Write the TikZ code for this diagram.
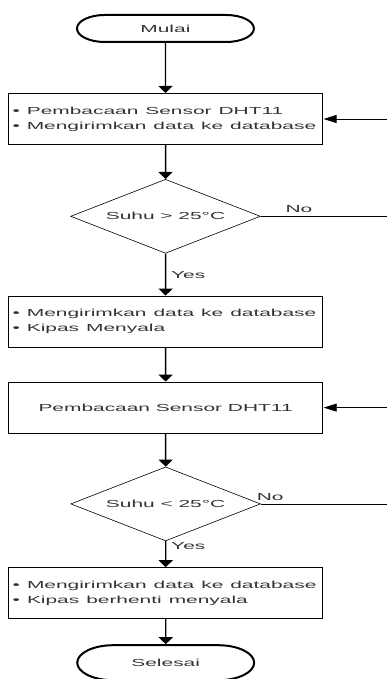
\documentclass[tikz,border=0pt]{standalone}
\usepackage{fontspec}
\setmainfont{Liberation Sans}
\usetikzlibrary{arrows.meta, positioning, shapes.geometric, shapes.misc}
\newcommand{\Item}[1]{\textbullet\ #1}
\tikzset{
    terminal/.style={rounded rectangle, draw, line width=2pt, minimum width=86.3pt, minimum height=27pt, inner sep=0pt},
    process/.style={rectangle, draw, line width=1pt, minimum width=153.2pt, minimum height=51pt, inner sep=2pt},
    listing/.style={process, align=left, text width=149.2pt},
    decision/.style={diamond, draw, line width=0.6pt, minimum width=92.7pt, minimum height=74pt, inner sep=0pt},
    flow/.style={-{Triangle[width=14pt,length=7pt]}, line width=1.4pt},
    back/.style={-{Triangle[width=8pt,length=13pt]}, line width=0.8pt},
    branch/.style={line width=0.8pt},
}

\begin{document}
\begin{tikzpicture}[x=1pt, y=1pt, xscale=2.05, transform shape,
    every node/.append style={font=\fontsize{10.2}{15}\selectfont, text=black!80}]
    \useasboundingbox (0,0) rectangle (188.8,-679);

    \node[terminal] (mulai) at (80.7,-28.5) {Mulai};
    \node[listing, below=50pt of mulai] (baca1) {\Item{Pembacaan Sensor DHT11}\\\Item{Mengirimkan data ke database}};
    \node[decision, below=34pt of baca1] (cek1) {Suhu > 25°C};
    \node[listing, below=42pt of cek1] (kirim1) {\Item{Mengirimkan data ke database}\\\Item{Kipas Menyala}};
    \node[process, below=34pt of kirim1] (baca2) {Pembacaan Sensor DHT11};
    \node[decision, below=33pt of baca2] (cek2) {Suhu < 25°C};
    \node[listing, below=26pt of cek2] (kirim2) {\Item{Mengirimkan data ke database}\\\Item{Kipas berhenti menyala}};
    \node[terminal, below=25pt of kirim2, minimum height=35pt] (selesai) {Selesai};

    % ujung garis di tepi kanan
    \coordinate (rim) at (188.8,0);
    \coordinate (in1) at (baca1.east -| rim);
    \coordinate (in2) at (baca2.east -| rim);
    \coordinate (no1) at (cek1.east -| rim);
    \coordinate (no2) at (cek2.east -| rim);

    \draw[flow] (mulai) -- (baca1);
    \draw[flow] (baca1) -- (cek1);
    \draw[flow] (cek1) -- node[right, pos=0.5, inner xsep=2pt]{Yes} (kirim1);
    \draw[flow] (kirim1) -- (baca2);
    \draw[flow] (baca2) -- (cek2);
    \draw[flow] (cek2) -- node[right, pos=0.2, inner xsep=2pt]{Yes} (kirim2);
    \draw[flow] (kirim2) -- (selesai);

    \draw[branch] (cek1.east) -- node[above, pos=0.3]{No} (no1);
    \draw[branch] (cek2.east) -- node[above, pos=0.07]{No} (no2);
    \draw[back] (in1) -- (baca1);
    \draw[back] (in2) -- (baca2);
\end{tikzpicture}
\end{document}
